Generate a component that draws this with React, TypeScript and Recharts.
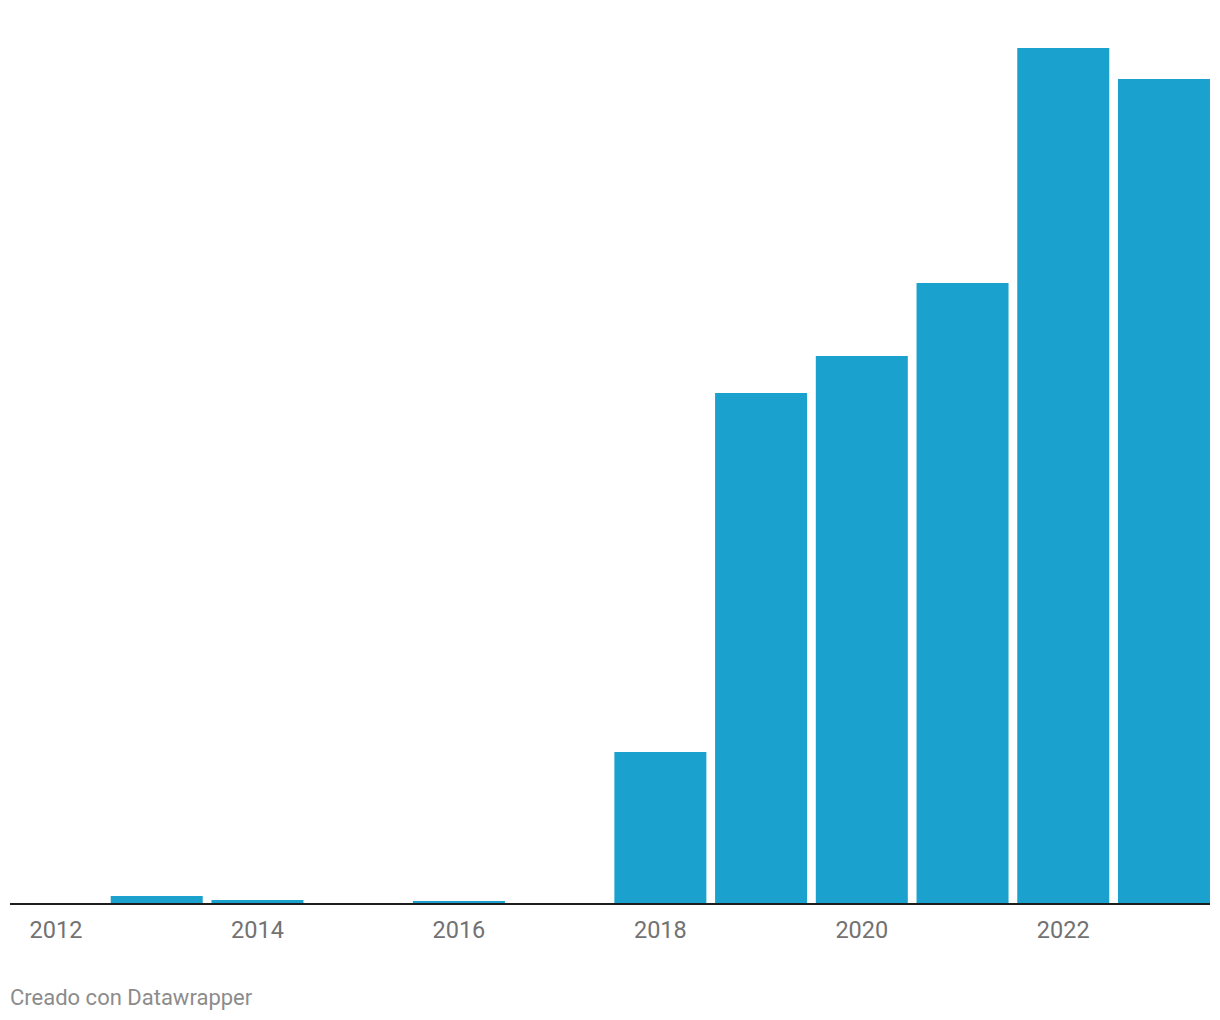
import React from "react";
import { BarChart, Bar, XAxis, YAxis } from "recharts";

const years: string[] = ["2012", "2013", "2014", "2015", "2016", "2017", "2018", "2019", "2020", "2021", "2022", "2023"];
const values: number[] = [0, 8, 4, 0, 3, 0, 152, 511, 548, 621, 856, 825];
const yDomain: [number, number] = [0, 900];
const creditText = "Creado con Datawrapper";

const data = years.map((year, i) => ({ year, value: values[i] }));

export default function App() {
  return (
    <div style={{ position: "absolute", left: 0, top: 0, width: 1220, height: 1020, background: "#ffffff" }}>
      <BarChart
        width={1220}
        height={1020}
        data={data}
        margin={{ top: 4, right: 5.65, bottom: 86, left: 5.65 }}
        barCategoryGap={4.36}
      >
        <YAxis hide domain={yDomain} />
        <Bar dataKey="value" fill="#1aa1cd" isAnimationActive={false} />
        <XAxis
          dataKey="year"
          interval={1}
          tickLine={false}
          tickSize={0}
          tickMargin={17.6}
          axisLine={{ stroke: "#1d1d1d", strokeWidth: 2, strokeDasharray: "0 4.35 1200 20" }}
          tick={{ fill: "#727272", fontSize: 23.5, fontFamily: "Roboto" }}
        />
      </BarChart>
      <div
        style={{
          position: "absolute",
          left: 10,
          top: 984.6,
          fontFamily: "Roboto",
          fontSize: 22,
          color: "#8c8c8c",
          whiteSpace: "nowrap",
        }}
      >
        {creditText}
      </div>
    </div>
  );
}
